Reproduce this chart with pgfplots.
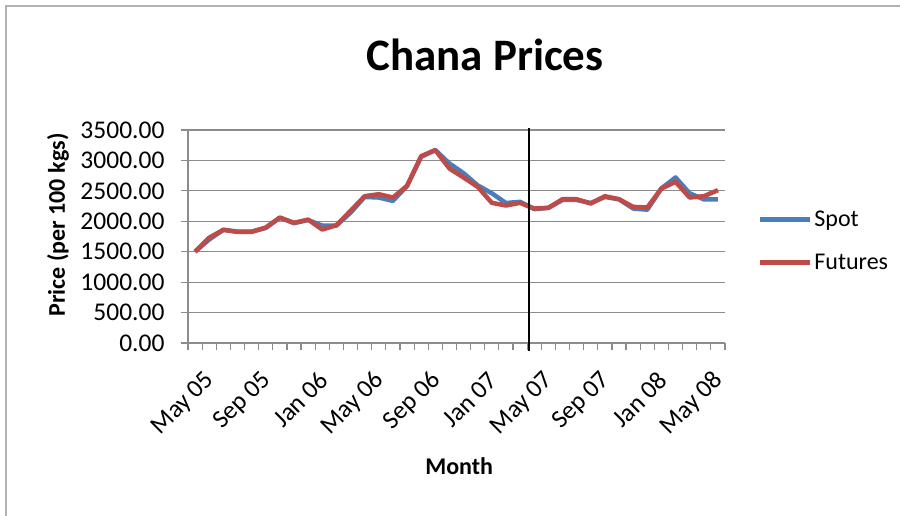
\documentclass[border=0pt]{standalone}
\usepackage{pgfplots}
\pgfplotsset{compat=1.18}
\usepackage{fontspec}
\setmainfont{Carlito}
\definecolor{spotblue}{HTML}{4A7EBB}
\definecolor{futred}{HTML}{BE4B48}
\definecolor{gridgray}{HTML}{8C8C8C}
\begin{document}
\begin{tikzpicture}[x=1pt,y=1pt]
\path[use as bounding box] (0,0) rectangle (900,516);
\draw[gray!60, line width=2pt] (6,0) -- (6,510) -- (900,510);
\begin{axis}[
  at={(188pt,173pt)}, anchor=south west,
  width=537pt, height=213pt, scale only axis,
  xmin=-0.5, xmax=37.5, ymin=0, ymax=3500, clip=false,
  axis x line*=bottom, axis y line*=left,
  axis line style={gridgray, line width=1.2pt, -},
  ytick={0,500,...,3500},
  ymajorgrids, major grid style={gridgray, line width=1.2pt},
  xtick={0,4,...,36},
  xticklabels={May 05,Sep 05,Jan 06,May 06,Sep 06,Jan 07,May 07,Sep 07,Jan 08,May 08},
  minor xtick={-0.5,0.5,...,37.5},
  major x tick style={draw=none},
  tick align=outside, major tick length=7pt, minor tick length=7pt,
  tick style={gridgray, line width=1.2pt},
  /pgf/number format/fixed, /pgf/number format/fixed zerofill,
  /pgf/number format/precision=2, /pgf/number format/1000 sep={},
  /pgf/number format/assume math mode=true,
  ticklabel style={font=\fontsize{25.5}{29}\selectfont},
  yticklabel style={xshift=-13pt},
  xticklabel style={xshift=18pt, yshift=-24pt, rotate=45, anchor=east},
  title={Chana Prices},
  title style={at={(axis description cs:0.553,1.25)}, anchor=base, font=\fontsize{45}{50}\selectfont\bfseries},
  xlabel={Month},
  xlabel style={at={(axis description cs:0.505,-0.577)}, anchor=center, font=\fontsize{24}{28}\selectfont\bfseries},
  ylabel={Price (per 100 kgs)},
  ylabel style={at={(axis description cs:-0.242,0.554)}, rotate=0, anchor=center, font=\fontsize{24}{28}\selectfont\bfseries},
  legend style={at={(axis description cs:1.061,0.479)}, anchor=west, draw=none, fill=none,
    font=\fontsize{24}{28}\selectfont, row sep=22pt, inner sep=0pt},
  legend cell align=left,
  legend image code/.code={\draw[#1] (0pt,0pt) -- (50pt,0pt);},
]
\addplot[spotblue, line width=4.5pt, line join=round] coordinates {
(0,1500)(1,1700)(2,1860)(3,1830)(4,1830)(5,1890)(6,2060)(7,1970)(8,2020)(9,1930)
(10,1930)(11,2140)(12,2400)(13,2390)(14,2335)(15,2580)(16,3060)(17,3170)(18,2950)(19,2790)
(20,2590)(21,2460)(22,2300)(23,2320)(24,2200)(25,2220)(26,2350)(27,2350)(28,2300)(29,2400)
(30,2360)(31,2210)(32,2190)(33,2540)(34,2720)(35,2460)(36,2360)(37,2360)};
\addlegendentry{Spot}
\addplot[futred, line width=4.5pt, line join=round] coordinates {
(0,1500)(1,1730)(2,1860)(3,1826)(4,1826)(5,1897)(6,2060)(7,1974)(8,2028)(9,1864)
(10,1935)(11,2171)(12,2412)(13,2445)(14,2390)(15,2582)(16,3070)(17,3169)(18,2867)(19,2719)
(20,2566)(21,2303)(22,2259)(23,2303)(24,2209)(25,2221)(26,2363)(27,2363)(28,2292)(29,2412)
(30,2363)(31,2237)(32,2226)(33,2538)(34,2648)(35,2390)(36,2412)(37,2511)};
\addlegendentry{Futures}
\addplot[black, line width=2pt, forget plot] coordinates {(23.63,-130)(23.63,3530)};
\end{axis}
\end{tikzpicture}
\end{document}
